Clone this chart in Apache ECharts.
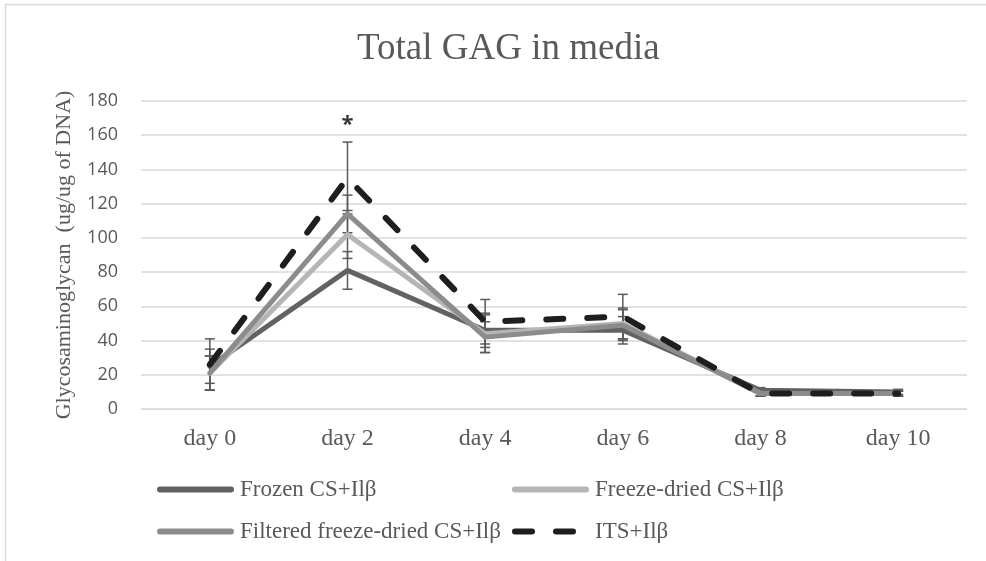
<!DOCTYPE html>
<html>
<head>
<meta charset="utf-8">
<script src="https://cdn.jsdelivr.net/npm/echarts@6/dist/echarts.min.js"></script>
<style>
html,body{margin:0;padding:0;background:#fff;}
#c{width:986px;height:561px;}
</style>
</head>
<body>
<div id="c"></div>
<script>
var categories = ['day 0','day 2','day 4','day 6','day 8','day 10'];
var seriesNames = ['Frozen CS+Ilβ','Freeze-dried CS+Ilβ','Filtered freeze-dried CS+Ilβ','ITS+Ilβ'];
var frozen      = [25, 81, 46, 46, 11, 10];
var freezeDried = [21, 102, 44, 50, 9, 9];
var filtered    = [21, 114, 42, 49, 9, 9];
var its         = [26, 135, 51, 54, 9, 9];
var frozenErr      = [10, 11, 10, 8, 1.5, 1.5];
var freezeDriedErr = [10, 14, 11, 9, 1.5, 1.5];
var filteredErr    = [10, 11, 9, 9, 1.5, 1.5];
var itsErr         = [15, 21, 13, 13, 1.5, 1.5];
var yTicks = [0, 20, 40, 60, 80, 100, 120, 140, 160, 180];
var annotation = [['day 2', 166, '*']];

var colors = ['#626262', '#b5b5b5', '#8c8c8c', '#1e1e1e'];
var values = [frozen, freezeDried, filtered, its];
var errs = [frozenErr, freezeDriedErr, filteredErr, itsErr];

var errData = [];
for (var s = 0; s < values.length; s++) {
  for (var i = 0; i < categories.length; i++) {
    errData.push([i, values[s][i] - errs[s][i], values[s][i] + errs[s][i]]);
  }
}

var serif = '"Liberation Serif", "DejaVu Serif", serif';
var sans = '"Open Sans", "Liberation Sans", sans-serif';

var series = [];
series.push({
  type: 'custom',
  name: 'err',
  z: 1,
  silent: true,
  data: errData,
  renderItem: function (params, api) {
    var x = api.value(0);
    var lo = api.coord([x, api.value(1)]);
    var hi = api.coord([x, api.value(2)]);
    var w = 5;
    var st = {stroke: '#5a5a5a', lineWidth: 1.5};
    return {
      type: 'group',
      children: [
        {type: 'line', shape: {x1: lo[0], y1: lo[1], x2: hi[0], y2: hi[1]}, style: st},
        {type: 'line', shape: {x1: lo[0] - w, y1: lo[1], x2: lo[0] + w, y2: lo[1]}, style: st},
        {type: 'line', shape: {x1: hi[0] - w, y1: hi[1], x2: hi[0] + w, y2: hi[1]}, style: st}
      ]
    };
  }
});
for (var k = 0; k < seriesNames.length; k++) {
  series.push({
    type: 'line',
    name: seriesNames[k],
    data: values[k],
    z: 2 + k,
    symbol: 'none',
    lineStyle: {
      color: colors[k],
      width: k === 3 ? 6 : 5,
      type: k === 3 ? [17, 24] : 'solid',
      cap: 'round',
      join: 'round'
    },
    itemStyle: {color: colors[k]}
  });
}
series.push({
  type: 'scatter',
  name: 'annot',
  data: annotation,
  symbolSize: 0,
  silent: true,
  label: {
    show: true,
    formatter: function (p) { return p.data[2]; },
    position: 'inside',
    color: '#000',
    fontSize: 22,
    fontWeight: 'bold',
    fontFamily: sans
  }
});

var legendCommon = {
  orient: 'vertical',
  top: 478,
  padding: 0,
  itemWidth: 71, itemHeight: 6, itemGap: 19,
  lineStyle: {width: 6, cap: 'round'},
  itemStyle: {opacity: 0},
  textStyle: {fontFamily: serif, fontSize: 23, color: '#595959', padding: [0, 0, 0, 4]}
};

var chart = echarts.init(document.getElementById('c'));
chart.setOption({
  animation: false,
  backgroundColor: '#fff',
  title: {
    text: 'Total GAG in media',
    left: 352,
    top: 26,
    textStyle: {fontFamily: serif, fontWeight: 'normal', fontSize: 37, color: '#595959'}
  },
  grid: {left: 141, right: 19, top: 101, bottom: 152},
  legend: [
    Object.assign({}, legendCommon, {data: [seriesNames[0], seriesNames[2]], left: 157}),
    Object.assign({}, legendCommon, {data: [seriesNames[1], seriesNames[3]], left: 512})
  ],
  xAxis: {
    type: 'category',
    data: categories,
    boundaryGap: true,
    axisLine: {show: true, lineStyle: {color: '#d9d9d9', width: 1}},
    axisTick: {show: false},
    axisLabel: {fontFamily: serif, fontSize: 24, color: '#595959', margin: 18}
  },
  yAxis: {
    type: 'value',
    min: yTicks[0],
    max: yTicks[yTicks.length - 1],
    interval: 20,
    name: 'Glycosaminoglycan  (ug/ug of DNA)',
    nameLocation: 'middle',
    nameGap: 66,
    nameTextStyle: {fontFamily: serif, fontSize: 22, color: '#595959'},
    axisLine: {show: false},
    axisTick: {show: false},
    splitLine: {lineStyle: {color: '#d9d9d9', width: 1.5}},
    axisLabel: {fontFamily: sans, fontSize: 18, color: '#595959', margin: 23}
  },
  graphic: [{
    type: 'rect',
    shape: {x: 5.5, y: 4.5, width: 990, height: 570},
    style: {fill: 'none', stroke: '#d9d9d9', lineWidth: 1.5},
    silent: true
  }],
  series: series
});
</script>
</body>
</html>
